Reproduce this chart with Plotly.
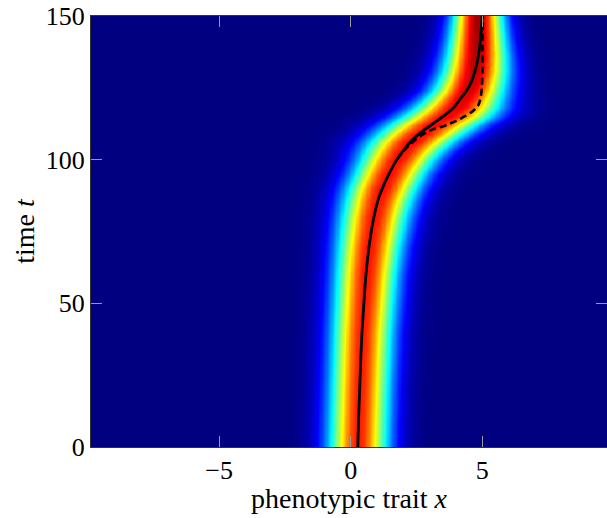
import numpy as np
import plotly.graph_objects as go

# ---- density band: time, centre, width, peak level ----
band_t = [0, 20, 40, 60, 70, 80, 86, 90, 95, 100, 103, 106, 109, 112, 115, 118, 121, 124, 127, 131, 136, 142, 150]
band_center = [0.27, 0.34, 0.43, 0.58, 0.70, 0.88, 1.04, 1.20, 1.45, 1.75, 1.98, 2.28, 2.65, 3.10, 3.60, 4.00, 4.25, 4.45, 4.58, 4.70, 4.77, 4.80, 4.82]
band_sigma = [0.80, 0.80, 0.81, 0.83, 0.86, 0.90, 0.93, 0.95, 0.97, 1.02, 1.08, 1.14, 1.19, 1.22, 1.22, 1.15, 1.05, 0.97, 0.92, 0.87, 0.81, 0.74, 0.66]
band_peak = [0.85, 0.85, 0.85, 0.86, 0.86, 0.86, 0.86, 0.87, 0.87, 0.87, 0.87, 0.88, 0.88, 0.88, 0.89, 0.90, 0.91, 0.92, 0.93, 0.94, 0.95, 0.96, 0.97]

# ---- solid curve (mean trait) ----
solid_t = [0, 10, 20, 30, 40, 50, 60, 70, 80, 86, 90, 95, 100, 103, 106, 109, 112, 115, 118, 121, 124, 127, 131, 135, 140, 145, 150]
solid_x = [0.27, 0.30, 0.34, 0.38, 0.43, 0.50, 0.58, 0.70, 0.88, 1.04, 1.20, 1.45, 1.75, 1.98, 2.25, 2.60, 3.05, 3.50, 3.90, 4.15, 4.40, 4.58, 4.73, 4.83, 4.91, 4.96, 4.99]

# ---- dashed curve ----
dashed_t = [100, 103, 105, 107.4, 110.3, 112, 114.3, 117.2, 119, 121.3, 125, 130, 140, 150]
dashed_x = [1.75, 2.0, 2.22, 2.52, 3.05, 3.62, 4.18, 4.68, 4.85, 4.93, 4.98, 5.0, 5.01, 5.02]

# ---- axes ----
x_ticks = [-5, 0, 5]
x_ticktext = ["\u22125", "0", "5"]
y_ticks = [0, 50, 100, 150]
y_ticktext = ["0", "50", "100", "150"]

x_grid = np.linspace(-9.87, 9.87, 420)
c = np.array(band_center)[:, None]
s = np.array(band_sigma)[:, None]
p = np.array(band_peak)[:, None]
z = p * np.exp(-((x_grid[None, :] - c) ** 2) / (2 * s ** 2))

jet = [[0.0, "rgb(0,0,128)"], [0.125, "rgb(0,0,255)"], [0.375, "rgb(0,255,255)"],
       [0.625, "rgb(255,255,0)"], [0.875, "rgb(255,0,0)"], [1.0, "rgb(128,0,0)"]]

fig = go.Figure()
fig.add_trace(go.Heatmap(x=x_grid, y=band_t, z=z, colorscale=jet, zmin=0, zmax=1,
                         zsmooth="best", showscale=False, hoverinfo="skip"))
fig.add_trace(go.Scatter(x=solid_x, y=solid_t, mode="lines",
                         line=dict(color="black", width=2.8, shape="spline")))
fig.add_trace(go.Scatter(x=dashed_x, y=dashed_t, mode="lines",
                         line=dict(color="black", width=2.6, dash="7px,4px", shape="spline")))

axis_common = dict(ticks="inside", ticklen=11, tickcolor="#9a9a9a", tickwidth=1.2,
                   showline=True, linecolor="#333333", linewidth=1, mirror="ticks",
                   showgrid=False, zeroline=False, tickfont=dict(size=26))

fig.update_layout(
    width=607, height=518,
    margin=dict(l=91, r=0, t=16, b=71),
    paper_bgcolor="white", plot_bgcolor="rgb(0,0,128)",
    showlegend=False,
    font=dict(family="Liberation Serif", size=26, color="black"),
    xaxis=dict(range=[-9.87, 9.74], tickvals=x_ticks, ticktext=x_ticktext, **axis_common),
    yaxis=dict(range=[0, 150], tickvals=y_ticks, ticktext=y_ticktext,
               title=dict(text="time <i>t</i>", font=dict(size=28), standoff=2),
               **axis_common),
    annotations=[dict(text="phenotypic trait <i>x</i>", xref="paper", yref="paper",
                      x=0.5, y=0, xanchor="center", yanchor="middle", yshift=-51,
                      borderpad=0, showarrow=False, font=dict(size=28))],
)

fig.write_html("out.html", config={"displayModeBar": False},
               post_script="document.body.style.margin='0';")
